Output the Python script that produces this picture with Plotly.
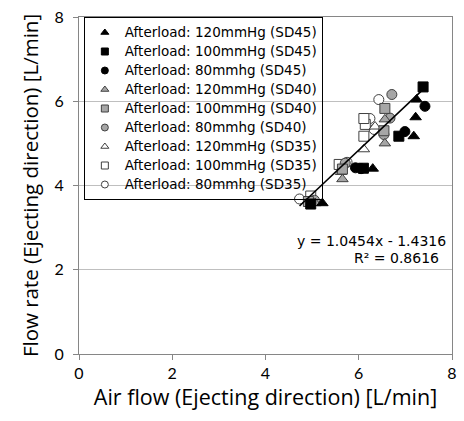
import plotly.graph_objects as go

# ---- data ----
sd45_120_x = [5.22, 6.30, 7.18, 7.22, 7.24]
sd45_120_y = [3.58, 4.40, 5.17, 5.62, 6.04]
sd45_100_x = [4.97, 6.10, 6.86, 7.38]
sd45_100_y = [3.56, 4.41, 5.17, 6.34]
sd45_80_x = [5.93, 6.05, 6.99, 7.42]
sd45_80_y = [4.42, 4.40, 5.28, 5.88]
sd40_120_x = [5.07, 5.65, 6.56, 6.56]
sd40_120_y = [3.58, 4.15, 5.00, 5.57]
sd40_100_x = [4.92, 5.65, 6.54, 6.56]
sd40_100_y = [3.62, 4.39, 5.30, 5.83]
sd40_80_x = [5.05, 5.71, 6.54, 6.67, 6.71]
sd40_80_y = [3.65, 4.53, 5.21, 5.60, 6.16]
sd35_120_x = [4.95, 5.62, 6.11, 6.35]
sd35_120_y = [3.60, 4.32, 4.86, 5.40]
sd35_100_x = [4.97, 5.58, 6.11, 6.14, 6.11]
sd35_100_y = [3.75, 4.50, 5.17, 5.45, 5.59]
sd35_80_x = [4.73, 5.75, 6.33, 6.24, 6.43]
sd35_80_y = [3.68, 4.55, 5.33, 5.59, 6.04]

labels = ["Afterload: 120mmHg (SD45)", "Afterload: 100mmHg (SD45)", "Afterload: 80mmhg (SD45)",
          "Afterload: 120mmHg (SD40)", "Afterload: 100mmHg (SD40)", "Afterload: 80mmhg (SD40)",
          "Afterload: 120mmHg (SD35)", "Afterload: 100mmHg (SD35)", "Afterload: 80mmhg (SD35)"]

slope = 1.0454
intercept = -1.4316
eq_text = "y = 1.0454x - 1.4316"
r2_text = "R² = 0.8616"

x_ticks = [0, 2, 4, 6, 8]
y_ticks = [0, 2, 4, 6, 8]

GRAY_FILL = "#a6a6a6"
DARK = "#404040"
series = [
    (sd45_120_x, sd45_120_y, "triangle-up", "black", "black"),
    (sd45_100_x, sd45_100_y, "square", "black", "black"),
    (sd45_80_x, sd45_80_y, "circle", "black", "black"),
    (sd40_120_x, sd40_120_y, "triangle-up", GRAY_FILL, DARK),
    (sd40_100_x, sd40_100_y, "square", GRAY_FILL, DARK),
    (sd40_80_x, sd40_80_y, "circle", GRAY_FILL, DARK),
    (sd35_120_x, sd35_120_y, "triangle-up", "white", DARK),
    (sd35_100_x, sd35_100_y, "square", "white", DARK),
    (sd35_80_x, sd35_80_y, "circle", "white", DARK),
]

fig = go.Figure()
for (xs, ys, sym, fill, line), name in reversed(list(zip(series, labels))):
    fig.add_trace(go.Scatter(x=xs, y=ys, mode="markers", showlegend=False,
                             marker=dict(symbol=sym, size=10, color=fill,
                                         line=dict(color=line, width=1))))

# linear trendline over the data's x extent
all_x = [v for s in series for v in s[0]]
xmin, xmax = min(all_x), max(all_x)
fig.add_trace(go.Scatter(x=[xmin, xmax], y=[slope * xmin + intercept, slope * xmax + intercept],
                         mode="lines", line=dict(color="black", width=1.6), showlegend=False))

# legend entries (smaller symbols)
for (xs, ys, sym, fill, line), name in zip(series, labels):
    fig.add_trace(go.Scatter(x=[None], y=[None], mode="markers",
                             name='<span style="font-size:13.5px">' + name + '</span>',
                             marker=dict(symbol=sym, size=7, color=fill,
                                         line=dict(color=line, width=1))))

ann_font = dict(family="DejaVu Sans, Liberation Sans, Arial", size=14, color="black")
fig.add_annotation(x=7.92, y=2.69, xref="x", yref="y", text=eq_text, showarrow=False,
                   xanchor="right", font=ann_font)
fig.add_annotation(x=7.77, y=2.29, xref="x", yref="y", text=r2_text, showarrow=False,
                   xanchor="right", font=ann_font)

axis_common = dict(range=[0, 8], showline=True, linecolor="#868686", linewidth=1, mirror=True,
                   ticks="outside", ticklen=5, tickcolor="#868686",
                   tickfont=dict(family="Lato, Carlito, sans-serif", size=16, color="black"),
                   zeroline=False)

fig.update_xaxes(**axis_common, tickvals=x_ticks, showgrid=False,
                 title=dict(text="Air flow (Ejecting direction) [L/min]", standoff=6,
                            font=dict(family="Open Sans, sans-serif", size=21.5, color="black")))
fig.update_yaxes(**axis_common, tickvals=y_ticks, showgrid=True, gridcolor="#bfbfbf", gridwidth=1,
                 ticklabelstandoff=6,
                 title=dict(text="Flow rate (Ejecting direction) [L/min]", standoff=10,
                            font=dict(family="Open Sans, sans-serif", size=20.5, color="black")))

fig.update_layout(
    width=464, height=421,
    margin=dict(l=79, r=7, t=14, b=67),
    plot_bgcolor="white", paper_bgcolor="white",
    legend=dict(x=0.013, y=1.0, xanchor="left", yanchor="top",
                bgcolor="rgba(0,0,0,0)", bordercolor="black", borderwidth=1,
                font=dict(family="DejaVu Sans, Liberation Sans, Arial", size=12, color="black"),
                itemwidth=30, tracegroupgap=0),
)

fig.write_html("out.html", config={"displayModeBar": False},
               post_script="document.body.style.margin='0px';")
